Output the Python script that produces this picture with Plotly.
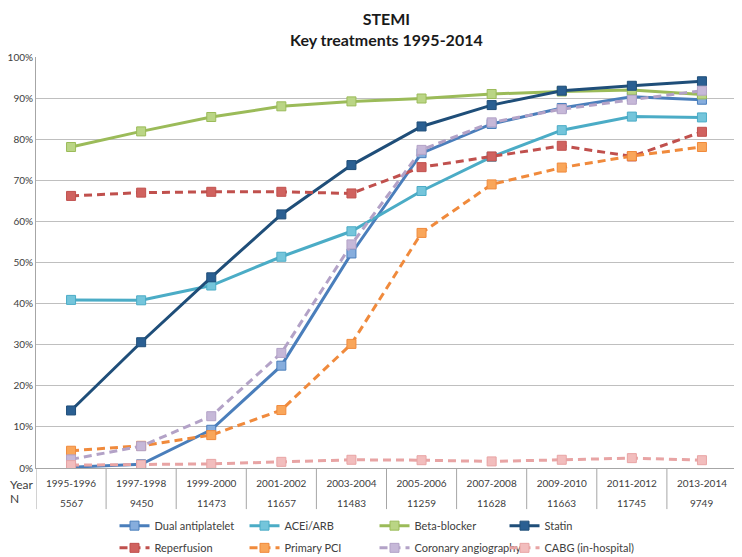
import plotly.graph_objects as go

periods = ["1995-1996", "1997-1998", "1999-2000", "2001-2002", "2003-2004",
           "2005-2006", "2007-2008", "2009-2010", "2011-2012", "2013-2014"]
n_patients = ["5567", "9450", "11473", "11657", "11483",
              "11259", "11628", "11663", "11745", "9749"]

dual_antiplatelet = [0.2, 0.9, 9.3, 24.9, 52.2, 76.6, 83.7, 87.6, 90.3, 89.6]
acei_arb = [40.9, 40.8, 44.4, 51.4, 57.6, 67.4, 75.7, 82.2, 85.5, 85.3]
beta_blocker = [78.1, 81.9, 85.4, 88.0, 89.2, 89.9, 91.0, 91.6, 92.0, 90.9]
statin = [14.0, 30.6, 46.4, 61.7, 73.7, 83.1, 88.3, 91.8, 93.0, 94.1]
reperfusion = [66.2, 67.0, 67.2, 67.2, 66.8, 73.2, 75.8, 78.4, 75.8, 81.8]
primary_pci = [4.2, 5.4, 8.0, 14.1, 30.2, 57.2, 69.0, 73.1, 75.9, 78.1]
coronary_angiography = [2.1, 5.3, 12.6, 28.0, 54.4, 77.4, 84.1, 87.3, 89.6, 91.8]
cabg = [0.7, 0.8, 1.0, 1.5, 2.0, 1.9, 1.6, 2.0, 2.4, 1.9]

series = [
    ("Dual antiplatelet", dual_antiplatelet, "#4A7EBB", "#86ADDD", "solid", "legend"),
    ("ACEi/ARB", acei_arb, "#4BACC6", "#74C5DB", "solid", "legend"),
    ("Beta-blocker", beta_blocker, "#9BBB59", "#BAD585", "solid", "legend"),
    ("Statin", statin, "#1F4E79", "#2A5F92", "solid", "legend"),
    ("Reperfusion", reperfusion, "#C0504D", "#D0625F", "8px,5px", "legend2"),
    ("Primary PCI", primary_pci, "#F08A3C", "#F9A65A", "8px,5px", "legend2"),
    ("Coronary angiography", coronary_angiography, "#B3A2C7", "#C6B8D8", "8px,5px", "legend2"),
    ("CABG (in-hospital)", cabg, "#E8A4A4", "#F2BDBD", "8px,5px", "legend2"),
]

FONT = "Lato, 'Open Sans', sans-serif"
TXT = "#404040"

fig = go.Figure()
for name, vals, lc, mc, dash, lg in series:
    fig.add_trace(go.Scatter(
        x=list(range(len(periods))), y=vals, name=name, mode="lines+markers",
        line=dict(color=lc, width=3, dash=dash),
        marker=dict(symbol="square", size=9, color=mc, line=dict(color=lc, width=1)),
        legend=lg,
    ))

# table lines under the x axis (category boundaries)
for i in range(len(periods) + 1):
    fig.add_shape(type="line", xref="x", yref="paper", x0=i - 0.5, x1=i - 0.5,
                  y0=0, y1=-0.1, line=dict(color="#a6a6a6", width=1))

# N row
for i, n in enumerate(n_patients):
    fig.add_annotation(x=i, y=-0.085, xref="x", yref="paper", text=n, showarrow=False,
                       font=dict(family=FONT, size=10, color=TXT), yanchor="middle")

fig.add_annotation(x=-0.04, y=-0.039, xref="paper", yref="paper", text="Year",
                   showarrow=False, font=dict(family=FONT, size=12, color=TXT),
                   xanchor="left", yanchor="middle")
fig.add_annotation(x=-0.04, y=-0.073, xref="paper", yref="paper", text="N",
                   showarrow=False, font=dict(family=FONT, size=12, color=TXT),
                   xanchor="left", yanchor="middle")

# title (two lines in one text)
fig.add_annotation(x=0.5, y=1.119, xref="paper", yref="paper",
                   text="<b>STEMI</b><br><b>Key treatments 1995-2014</b>",
                   showarrow=False, font=dict(family=FONT, size=16, color="#1a1a1a"),
                   xanchor="center", yanchor="top", align="center", borderpad=0)

# the page adds an 8px body margin, so the figure is sized to fit what remains
fig.update_layout(
    width=734, height=549,
    margin=dict(l=28, r=5, t=49, b=89, autoexpand=False),
    paper_bgcolor="white", plot_bgcolor="white",
    font=dict(family=FONT, color=TXT),
    xaxis=dict(range=[-0.5, len(periods) - 0.5], tickvals=list(range(len(periods))),
               ticktext=periods, showgrid=False, zeroline=False, showline=True,
               linecolor="#a6a6a6", linewidth=1, ticks="", ticklabelstandoff=6,
               tickfont=dict(family=FONT, size=10, color=TXT), fixedrange=True,
               automargin=False),
    yaxis=dict(range=[0, 100], dtick=10, ticksuffix="%", showgrid=True,
               gridcolor="#bfbfbf", gridwidth=1, zeroline=False, showline=True,
               linecolor="#a6a6a6", linewidth=1, ticks="", ticklabelstandoff=0,
               tickfont=dict(family=FONT, size=10, color=TXT), automargin=False),
    legend=dict(orientation="h", x=0.112, xanchor="left", y=-0.105, yanchor="top",
                entrywidth=85, font=dict(family=FONT, size=11, color=TXT),
                bgcolor="rgba(0,0,0,0)", itemwidth=30, tracegroupgap=0),
    legend2=dict(orientation="h", x=0.112, xanchor="left", y=-0.159, yanchor="top",
                 entrywidth=85, font=dict(family=FONT, size=11, color=TXT),
                 bgcolor="rgba(0,0,0,0)", itemwidth=30, tracegroupgap=0),
    showlegend=True,
)

fig.write_html("out.html")
